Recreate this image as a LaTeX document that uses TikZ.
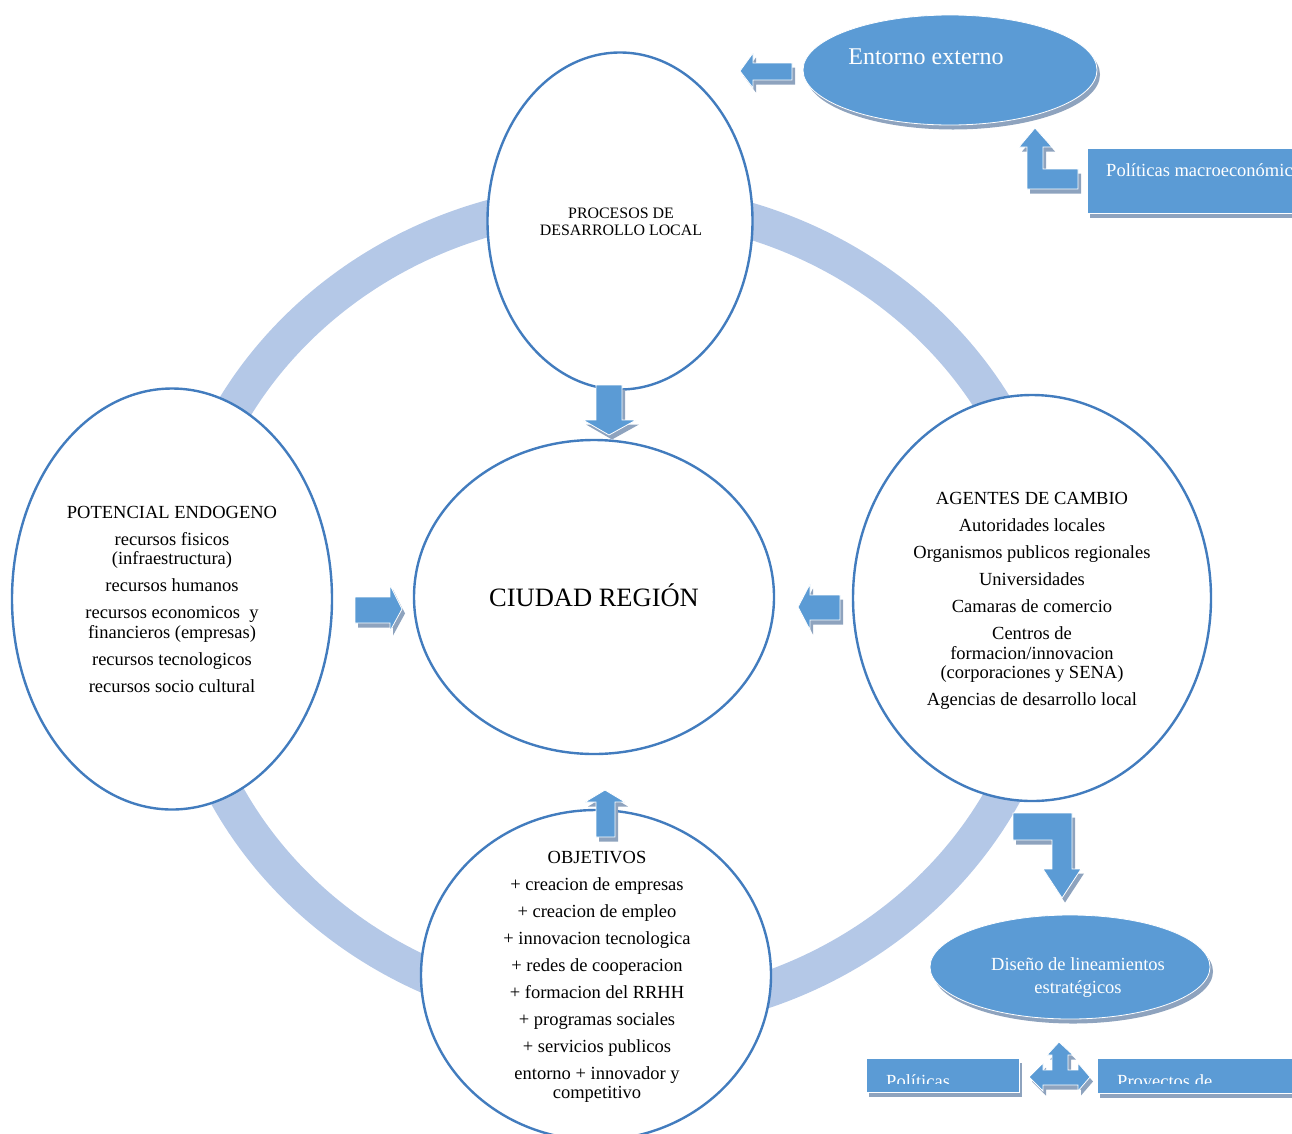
\documentclass[tikz,border=0pt]{standalone}
\usepackage{fontspec}
\setmainfont{Liberation Serif}
\usetikzlibrary{shapes.geometric,shadows}
\definecolor{bluec}{RGB}{91,155,213}
\definecolor{edgec}{RGB}{66,124,190}
\definecolor{ringc}{RGB}{180,200,231}
\definecolor{shdc}{RGB}{142,163,190}
\tikzset{
  ringband/.style={draw=ringc, line width=36pt},
  bigell/.style={ellipse, draw=edgec, line width=2.4pt, fill=white, inner sep=0pt},
  blueshape/.style={fill=bluec, draw=white, line width=0.8pt,
    drop shadow={shadow xshift=3pt, shadow yshift=-4.5pt, opacity=1, fill=shdc}},
  txt/.style={align=center, inner sep=0pt, font=\fontsize{18.5}{19.5}\selectfont},
  txtsmall/.style={align=center, inner sep=0pt, font=\fontsize{15.9}{17}\selectfont},
  whitetxt/.style={text=white, inner sep=0pt, font=\fontsize{18.5}{23}\selectfont}
}
\begin{document}
\begin{tikzpicture}[x=1pt,y=-1pt]
\useasboundingbox (0,0) rectangle (1292,1133);

% ring
\draw[ringband] (615,608) ellipse [x radius=437pt, y radius=407pt];

% main ellipses
\node[bigell, minimum width=265pt, minimum height=337pt] (proc) at (620,221) {};
\node[bigell, minimum width=360pt, minimum height=314pt] (ciudad) at (594,597) {};
\node[bigell, minimum width=320pt, minimum height=421pt] (pot) at (172,599) {};
\node[bigell, minimum width=358pt, minimum height=406pt] (agen) at (1032,598) {};
\node[bigell, minimum width=350pt, minimum height=330pt] (obj) at (596,975) {};

% texts in ellipses
\node[txtsmall] (proct) at (621,222) {PROCESOS DE\\DESARROLLO LOCAL};
\node[inner sep=0pt, font=\fontsize{26.5}{30}\selectfont] (ciudt) at (594,595) {CIUDAD REGIÓN};
\node[txt] (pott) at (172,599) {POTENCIAL ENDOGENO\\[7.5pt]recursos fisicos\\(infraestructura)\\[7.5pt]recursos humanos\\[7.5pt]recursos economicos\ \ y\\financieros (empresas)\\[7.5pt]recursos tecnologicos\\[7.5pt]recursos socio cultural};
\node[txt] (agent) at (1032,601) {AGENTES DE CAMBIO\\[7.5pt]Autoridades locales\\[7.5pt]Organismos publicos regionales\\[7.5pt]Universidades\\[7.5pt]Camaras de comercio\\[7.5pt]Centros de\\formacion/innovacion\\(corporaciones y SENA)\\[7.5pt]Agencias de desarrollo local};
\node[txt] (objt) at (597,977) {OBJETIVOS\\[7.5pt]+ creacion de empresas\\[7.5pt]+ creacion de empleo\\[7.5pt]+ innovacion tecnologica\\[7.5pt]+ redes de cooperacion\\[7.5pt]+ formacion del RRHH\\[7.5pt]+ programas sociales\\[7.5pt]+ servicios publicos\\[7.5pt]entorno + innovador y\\competitivo};

% block arrows toward the centre
\path[blueshape] (596,385) -- (622,385) -- (622,420) -- (636,420) -- (609,435) -- (583,420) -- (596,420) -- cycle;
\path[blueshape] (355,597) -- (390,597) -- (390,585) -- (402,609) -- (390,631) -- (390,623) -- (355,623) -- cycle;
\path[blueshape] (840,595) -- (810,595) -- (810,584) -- (798,607) -- (810,630) -- (810,620) -- (840,620) -- cycle;
\path[blueshape] (596,837) -- (596,802) -- (585,802) -- (605,790) -- (625,802) -- (615,802) -- (615,837) -- cycle;

% Entorno externo
\node[blueshape, ellipse, minimum width=294pt, minimum height=110pt, inner sep=0pt] (ent) at (950,70) {};
\node[whitetxt, font=\fontsize{24}{28}\selectfont] (entt) at (926,57) {Entorno externo};
\path[blueshape] (792,63) -- (753,63) -- (753,53) -- (740,71) -- (753,88) -- (753,80) -- (792,80) -- cycle;

% Politicas macroeconomicas
\path[blueshape] (1087,148) rectangle (1320,213);
\node[whitetxt, anchor=base west] (polmt) at (1106,176) {Políticas macroeconómicas};
\path[blueshape] (1035,128) -- (1052,147) -- (1043,147) -- (1043,169) -- (1078,169) -- (1078,189) -- (1027,189) -- (1027,147) -- (1019,147) -- cycle;

% arrow to Diseno
\path[blueshape] (1013,813) -- (1072,813) -- (1072,869) -- (1081,869) -- (1062,898) -- (1043,869) -- (1052,869) -- (1052,840) -- (1013,840) -- cycle;

% Diseno de lineamientos
\node[blueshape, ellipse, minimum width=280pt, minimum height=104pt, inner sep=0pt] (dis) at (1070,967) {};
\node[whitetxt, align=center] (dist) at (1078,978) {Diseño de lineamientos\\estratégicos};

% three-way arrow
\path[blueshape] (1059,1042) -- (1073,1055) -- (1068,1055) -- (1068,1070) -- (1078,1070) -- (1078,1063) -- (1090,1077) -- (1078,1091) -- (1078,1085) -- (1043,1085) -- (1043,1091) -- (1029,1077) -- (1043,1063) -- (1043,1070) -- (1052,1070) -- (1052,1055) -- (1047,1055) -- cycle;

% bottom boxes
\path[blueshape] (866,1058) rectangle (1019,1092);
\path[blueshape] (1097,1058) rectangle (1320,1093);
\begin{scope}
  \clip (866,1058) rectangle (1019,1083);
  \node[whitetxt, anchor=base west] (polt) at (886,1087) {Políticas};
\end{scope}
\begin{scope}
  \clip (1097,1058) rectangle (1292,1083);
  \node[whitetxt, anchor=base west] (proyt) at (1117,1087) {Proyectos de};
\end{scope}
\end{tikzpicture}
\end{document}
